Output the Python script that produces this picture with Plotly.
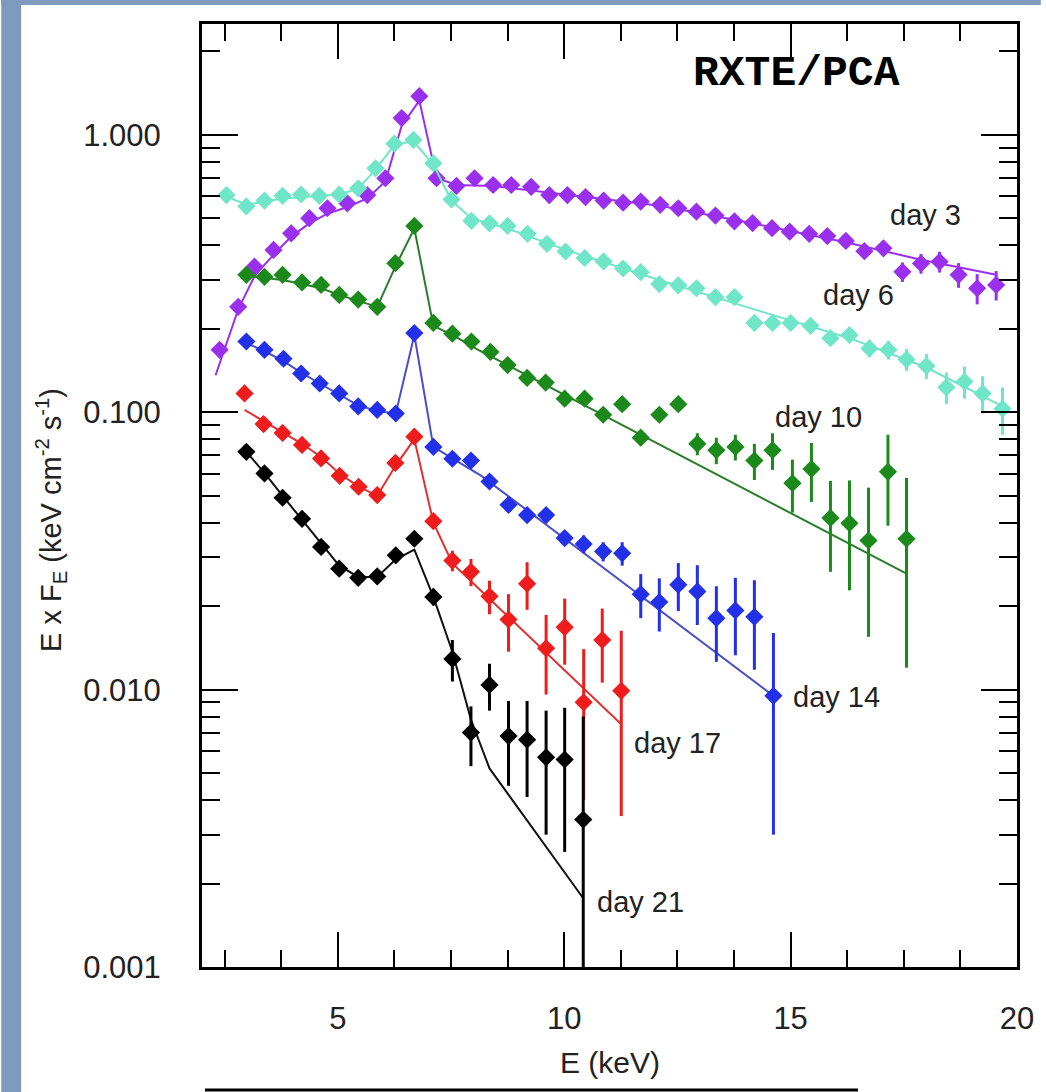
import plotly.graph_objects as go

# ---------------- data ----------------
# day 3 (purple)
d3_x = [2.39, 2.80, 3.16, 3.58, 3.97, 4.37, 4.77, 5.21, 5.65, 6.05, 6.41, 6.80, 7.18, 7.62, 8.02, 8.43,
        8.83, 9.27, 9.67, 10.07, 10.47, 10.87, 11.30, 11.69, 12.12, 12.52, 12.92, 13.34, 13.76, 14.16, 14.59, 14.98,
        15.41, 15.81, 16.22, 16.63, 17.05, 17.47, 17.88, 18.29, 18.71, 19.12, 19.54]
d3_y = [0.168, 0.240, 0.335, 0.385, 0.442, 0.501, 0.544, 0.567, 0.607, 0.698, 1.15, 1.38, 0.698, 0.655, 0.698, 0.66,
        0.66, 0.65, 0.607, 0.607, 0.597, 0.58, 0.57, 0.575, 0.56, 0.544, 0.529, 0.512, 0.488, 0.481, 0.461, 0.448,
        0.44, 0.432, 0.415, 0.381, 0.390, 0.321, 0.344, 0.349, 0.313, 0.280, 0.288]
d3_e = [0.008, 0.008, 0.008, 0.008, 0.008, 0.008, 0.008, 0.008, 0.008, 0.01, 0.02, 0.02, 0.01, 0.01, 0.01, 0.01,
        0.01, 0.01, 0.01, 0.01, 0.01, 0.012, 0.012, 0.012, 0.012, 0.012, 0.014, 0.014, 0.015, 0.015, 0.016, 0.016,
        0.018, 0.018, 0.02, 0.022, 0.024, 0.026, 0.028, 0.03, 0.032, 0.035, 0.035]
d3_mx = [2.30, 2.80, 3.16, 3.58, 3.97, 4.37, 4.77, 5.21, 5.65, 6.05, 6.41, 6.80, 7.18, 7.62, 8.43, 10.07,
         12.12, 14.16, 16.22, 17.88, 19.54]
d3_my = [0.136, 0.235, 0.31, 0.37, 0.43, 0.48, 0.52, 0.55, 0.59, 0.68, 1.08, 1.33, 0.70, 0.66, 0.655, 0.61,
         0.555, 0.48, 0.41, 0.355, 0.313]

# day 6 (aquamarine)
d6_x = [2.54, 2.98, 3.38, 3.78, 4.19, 4.59, 5.03, 5.45, 5.83, 6.25, 6.67, 7.11, 7.51, 7.95, 8.35, 8.75,
        9.19, 9.62, 10.03, 10.45, 10.87, 11.30, 11.69, 12.10, 12.52, 12.92, 13.34, 13.76, 14.20, 14.60, 15.00,
        15.44, 15.88, 16.30, 16.74, 17.16, 17.56, 18.00, 18.44, 18.84, 19.24, 19.68]
d6_y = [0.607, 0.553, 0.58, 0.603, 0.61, 0.603, 0.61, 0.642, 0.758, 0.93, 0.96, 0.79, 0.585, 0.49, 0.48, 0.47,
        0.44, 0.405, 0.38, 0.36, 0.35, 0.33, 0.32, 0.29, 0.287, 0.28, 0.26, 0.26, 0.21, 0.21, 0.21,
        0.205, 0.185, 0.19, 0.17, 0.168, 0.155, 0.147, 0.123, 0.129, 0.117, 0.103]
d6_e = [0.01, 0.01, 0.01, 0.01, 0.01, 0.01, 0.01, 0.01, 0.012, 0.015, 0.015, 0.012, 0.01, 0.008, 0.008, 0.008,
        0.008, 0.008, 0.008, 0.008, 0.008, 0.008, 0.008, 0.008, 0.008, 0.008, 0.008, 0.008, 0.009, 0.009, 0.01,
        0.01, 0.011, 0.012, 0.012, 0.013, 0.014, 0.015, 0.016, 0.017, 0.018, 0.02]
d6_mx = [2.54, 2.98, 3.78, 5.03, 5.45, 5.83, 6.25, 6.67, 7.11, 7.51, 7.95, 8.75, 10.03, 12.10, 14.20, 16.30,
         18.00, 19.68]
d6_my = [0.60, 0.56, 0.59, 0.61, 0.64, 0.75, 0.92, 0.95, 0.78, 0.58, 0.50, 0.46, 0.385, 0.30, 0.235, 0.185,
         0.145, 0.105]

# day 10 (green)
d10_x = [2.98, 3.38, 3.78, 4.21, 4.63, 5.03, 5.45, 5.87, 6.27, 6.69, 7.11, 7.53, 7.95, 8.37, 8.75, 9.18,
         9.59, 10.01, 10.45, 10.86, 11.28, 11.69, 12.10, 12.52, 12.94, 13.36, 13.78, 14.20, 14.60, 15.04, 15.46,
         15.88, 16.30, 16.72, 17.15, 17.56]
d10_y = [0.313, 0.308, 0.313, 0.294, 0.288, 0.265, 0.255, 0.24, 0.345, 0.47, 0.21, 0.192, 0.18, 0.165, 0.148, 0.133,
         0.128, 0.112, 0.112, 0.098, 0.107, 0.081, 0.098, 0.107, 0.077, 0.073, 0.075, 0.067, 0.073, 0.0555, 0.0625,
         0.0416, 0.0398, 0.0345, 0.061, 0.035]
d10_e = [0.004, 0.004, 0.004, 0.004, 0.004, 0.004, 0.004, 0.004, 0.005, 0.006, 0.004, 0.004, 0.004, 0.004, 0.004, 0.004,
         0.004, 0.004, 0.004, 0.004, 0.005, 0.005, 0.005, 0.006, 0.007, 0.008, 0.008, 0.010, 0.011, 0.012, 0.015,
         0.015, 0.017, 0.019, 0.022, 0.023]
d10_mx = [2.98, 3.38, 3.78, 4.21, 4.63, 5.03, 5.45, 5.87, 6.27, 6.69, 7.11, 7.53, 8.10, 17.56]
d10_my = [0.31, 0.305, 0.30, 0.29, 0.28, 0.265, 0.252, 0.24, 0.335, 0.46, 0.205, 0.19, 0.168, 0.0262]

# day 14 (blue)
d14_x = [2.98, 3.38, 3.80, 4.19, 4.60, 5.03, 5.45, 5.87, 6.28, 6.69, 7.11, 7.53, 7.94, 8.35, 8.77, 9.18,
         9.60, 10.01, 10.43, 10.86, 11.28, 11.69, 12.10, 12.52, 12.94, 13.36, 13.78, 14.20, 14.62]
d14_y = [0.18, 0.168, 0.156, 0.138, 0.127, 0.117, 0.105, 0.102, 0.099, 0.193, 0.075, 0.068, 0.067, 0.0563, 0.0464, 0.0426,
         0.0426, 0.0352, 0.0335, 0.0315, 0.031, 0.0221, 0.0207, 0.0239, 0.0226, 0.0181, 0.0193, 0.0183, 0.0095]
d14_e = [0.003, 0.003, 0.003, 0.003, 0.003, 0.003, 0.003, 0.003, 0.003, 0.004, 0.002, 0.002, 0.002, 0.002, 0.002, 0.002,
         0.002, 0.002, 0.0025, 0.0025, 0.003, 0.004, 0.0045, 0.0047, 0.0055, 0.0055, 0.006, 0.0065, 0.0065]
d14_mx = [2.98, 3.38, 3.80, 4.19, 4.60, 5.03, 5.45, 5.87, 6.28, 6.69, 7.11, 8.17, 14.62]
d14_my = [0.178, 0.166, 0.153, 0.139, 0.127, 0.116, 0.106, 0.101, 0.099, 0.19, 0.075, 0.059, 0.0095]

# day 17 (red)
d17_x = [2.94, 3.36, 3.78, 4.21, 4.63, 5.04, 5.46, 5.87, 6.27, 6.69, 7.11, 7.53, 7.94, 8.35, 8.77, 9.18,
         9.60, 10.01, 10.43, 10.84, 11.26]
d17_y = [0.117, 0.0907, 0.0842, 0.0763, 0.0682, 0.059, 0.0539, 0.0503, 0.0657, 0.0817, 0.0405, 0.0292, 0.0266, 0.0217,
         0.0179, 0.0241, 0.0141, 0.0168, 0.0090, 0.0151, 0.0099]
d17_e = [0.002, 0.002, 0.002, 0.002, 0.002, 0.002, 0.002, 0.002, 0.002, 0.002, 0.002, 0.0025, 0.003, 0.003,
         0.0042, 0.0047, 0.0045, 0.0045, 0.005, 0.0045, 0.0064]
d17_mx = [2.94, 3.36, 3.78, 4.21, 4.63, 5.04, 5.46, 5.87, 6.27, 6.69, 7.11, 7.53, 11.26]
d17_my = [0.102, 0.093, 0.085, 0.077, 0.069, 0.060, 0.054, 0.050, 0.064, 0.080, 0.040, 0.0285, 0.0075]

# day 21 (black)
d21_x = [2.98, 3.38, 3.78, 4.21, 4.63, 5.03, 5.45, 5.87, 6.28, 6.69, 7.11, 7.53, 7.94, 8.35, 8.77, 9.18,
         9.60, 10.01, 10.42]
d21_y = [0.072, 0.0602, 0.0492, 0.0413, 0.0327, 0.0273, 0.0253, 0.0256, 0.0305, 0.035, 0.0216, 0.0129, 0.0070, 0.0104,
         0.0068, 0.0066, 0.0057, 0.0056, 0.0034]
d21_e = [0.001, 0.001, 0.001, 0.001, 0.001, 0.001, 0.001, 0.001, 0.001, 0.001, 0.0015, 0.0022, 0.0017, 0.002,
         0.0023, 0.0025, 0.0027, 0.003, 0.0046]
d21_mx = [2.98, 3.38, 3.78, 4.21, 4.63, 5.03, 5.45, 5.87, 6.28, 6.69, 7.11, 7.53, 7.94, 8.35, 10.42]
d21_my = [0.072, 0.0605, 0.050, 0.041, 0.0335, 0.028, 0.0255, 0.0255, 0.0295, 0.032, 0.0216, 0.0137, 0.0078, 0.0052,
          0.00177]

series = [
    ("day 3", d3_x, d3_y, d3_e, d3_mx, d3_my, "#9a30ee", "#9a30ee"),
    ("day 6", d6_x, d6_y, d6_e, d6_mx, d6_my, "#6fe6c8", "#6fe6c8"),
    ("day 10", d10_x, d10_y, d10_e, d10_mx, d10_my, "#1b8a1b", "#2a7d2a"),
    ("day 14", d14_x, d14_y, d14_e, d14_mx, d14_my, "#2230e8", "#4a4ec8"),
    ("day 17", d17_x, d17_y, d17_e, d17_mx, d17_my, "#ee1c1c", "#e03030"),
    ("day 21", d21_x, d21_y, d21_e, d21_mx, d21_my, "#000000", "#111111"),
]

x_ticks = [5, 10, 15, 20]
y_ticks = [0.001, 0.01, 0.1, 1.0]
y_ticktext = ["0.001", "0.010", "0.100", "1.000"]

# ---------------- figure ----------------
W, H = 1046, 1092
ML, MR, MT, MB = 202, 24, 24, 125
PW, PH = W - ML - MR, H - MT - MB


def px(x):
    return (x - ML) / PW


def py(y):
    return (H - MB - y) / PH


fig = go.Figure()

for name, x, y, e, mx, my, col, lcol in series:
    fig.add_trace(go.Scatter(
        x=mx, y=my, mode="lines", line=dict(color=lcol, width=2),
        showlegend=False, hoverinfo="skip"))
    fig.add_trace(go.Scatter(
        x=x, y=y, mode="markers", name=name,
        marker=dict(symbol="diamond", size=14, color=col, line=dict(width=0)),
        error_y=dict(type="data", array=e, visible=True, color=col, thickness=3, width=0),
        showlegend=False))

font_main = "Liberation Sans, Arial, Helvetica, sans-serif"
txt_col = "#222222"

fig.update_layout(
    width=W, height=H,
    margin=dict(l=ML, r=MR, t=MT, b=MB, pad=0),
    paper_bgcolor="white", plot_bgcolor="white",
    font=dict(family=font_main, size=28, color=txt_col),
    showlegend=False,
)

fig.update_xaxes(
    range=[2, 20], showgrid=False, zeroline=False,
    showline=True, linecolor="black", linewidth=3, mirror="allticks",
    ticks="inside", ticklen=35, tickwidth=2, tickcolor="black",
    tickmode="array", tickvals=x_ticks, ticktext=[str(v) for v in x_ticks],
    tickfont=dict(size=31, color=txt_col), ticklabelstandoff=22,
    minor=dict(ticks="inside", ticklen=17, tickwidth=2, tickcolor="black", dtick=1.25, tick0=0, showgrid=False),
)
fig.update_yaxes(
    type="log", range=[-3, 0.4], showgrid=False, zeroline=False,
    showline=True, linecolor="black", linewidth=3, mirror="allticks",
    ticks="inside", ticklen=36, tickwidth=2, tickcolor="black",
    tickmode="array", tickvals=y_ticks, ticktext=y_ticktext,
    tickfont=dict(size=31, color=txt_col), ticklabelstandoff=32,
    minor=dict(ticks="inside", ticklen=18, tickwidth=2, tickcolor="black", dtick="D1", showgrid=False),
)

lab = dict(family=font_main, size=29, color=txt_col)
ann = [
    dict(text="<b>RXTE/PCA</b>", x=px(800), y=py(74),
         font=dict(family="Courier New, Liberation Mono, monospace", size=43, color="black"),
         xanchor="center", yanchor="middle"),
    dict(text="day 3", x=px(892), y=py(215), xanchor="left", yanchor="middle", font=lab),
    dict(text="day 6", x=px(825), y=py(295), xanchor="left", yanchor="middle", font=lab),
    dict(text="day 10", x=px(777), y=py(417), xanchor="left", yanchor="middle", font=lab),
    dict(text="day 14", x=px(795), y=py(697), xanchor="left", yanchor="middle", font=lab),
    dict(text="day 17", x=px(635), y=py(743), xanchor="left", yanchor="middle", font=lab),
    dict(text="day 21", x=px(597), y=py(902), xanchor="left", yanchor="middle", font=lab),
    dict(text="E (keV)", x=px(612), y=py(1062), xanchor="center", yanchor="middle",
         font=dict(family=font_main, size=30, color=txt_col)),
    dict(text="E x F<sub>E</sub> (keV cm<sup>-2</sup> s<sup>-1</sup>)", x=px(50), y=py(520),
         textangle=-90, xanchor="center", yanchor="middle",
         font=dict(family=font_main, size=29, color=txt_col)),
]
for a in ann:
    fig.add_annotation(xref="paper", yref="paper", showarrow=False, **a)

strip = "#7e9abf"
fig.add_shape(type="rect", xref="paper", yref="paper", x0=px(0), x1=px(20), y0=py(H), y1=py(0),
              fillcolor=strip, line=dict(width=0), layer="above")
fig.add_shape(type="rect", xref="paper", yref="paper", x0=px(0), x1=px(W), y0=py(5), y1=py(0),
              fillcolor=strip, line=dict(width=0), layer="above")
fig.add_shape(type="line", xref="paper", yref="paper", x0=px(205), x1=px(862), y0=py(1090), y1=py(1090),
              line=dict(color="black", width=3))

fig.write_html("out.html")
